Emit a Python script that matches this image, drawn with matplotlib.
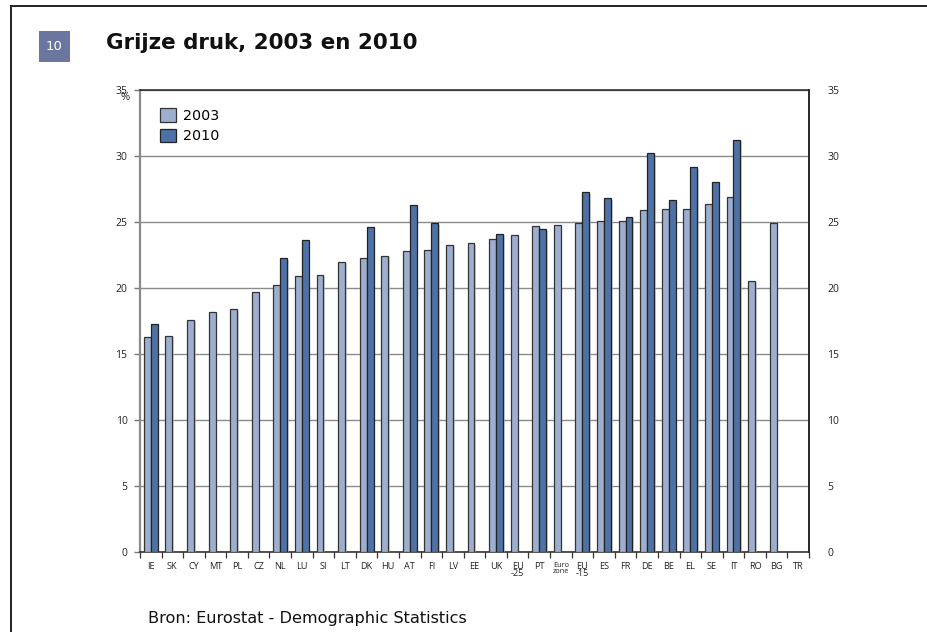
import numpy as np
import matplotlib
matplotlib.use("Agg")
import matplotlib.pyplot as plt
from matplotlib.patches import Rectangle
from matplotlib.lines import Line2D
import matplotlib.patheffects as pe

# Old-age dependency ratio per country, 2003 and 2010 (%)
countries = ["IE", "SK", "CY", "MT", "PL", "CZ", "NL", "LU", "SI", "LT", "DK",
             "HU", "AT", "FI", "LV", "EE", "UK", "EU\n-25", "PT", "Euro\nzone",
             "EU\n-15", "ES", "FR", "DE", "BE", "EL", "SE", "IT", "RO", "BG", "TR"]
values_2003 = [16.3, 16.4, 17.6, 18.2, 18.4, 19.7, 20.2, 20.9, 21.0, 22.0, 22.25,
               22.45, 22.8, 22.9, 23.25, 23.4, 23.7, 24.05, 24.7, 24.8,
               24.95, 25.05, 25.05, 25.9, 25.95, 25.95, 26.4, 26.9, 20.55, 24.9, np.nan]
values_2010 = [17.25, np.nan, np.nan, np.nan, np.nan, np.nan, 22.25, 23.6, np.nan, np.nan, 24.6,
               np.nan, 26.3, 24.9, np.nan, np.nan, 24.1, np.nan, 24.45, np.nan,
               27.25, 26.8, 25.4, 30.2, 26.7, 29.15, 28.05, 31.25, np.nan, np.nan, np.nan]
series_names = ["2003", "2010"]
y_ticks = [0, 5, 10, 15, 20, 25, 30, 35]

W, H = 928, 632
fig = plt.figure(figsize=(W / 100, H / 100), dpi=100)
fig.patch.set_facecolor("white")

def fx(px):
    return px / W

def fy(py):
    return 1 - py / H

# page frame (top and left rules)
fig.add_artist(Line2D([fx(11), fx(11)], [fy(6), 0], transform=fig.transFigure,
                      color="#222222", lw=1.4))
fig.add_artist(Line2D([fx(11), 1], [fy(6), fy(6)], transform=fig.transFigure,
                      color="#222222", lw=1.4))

# figure number badge
fig.add_artist(Rectangle((fx(39), fy(62)), fx(31), 31 / H, transform=fig.transFigure,
                         facecolor="#6a76a0", edgecolor="none"))
fig.text(fx(54.5), fy(47), "10", color="white", fontsize=9.5, ha="center", va="center",
         family="DejaVu Sans")

# title
fig.text(fx(106), fy(43), "Grijze druk, 2003 en 2010", fontsize=15.4, fontweight="bold",
         ha="left", va="center", family="DejaVu Sans", color="#111111")

ax = fig.add_axes([fx(140), fy(552), fx(809) - fx(140), (552 - 90) / H])
x = np.arange(len(countries))
w = 0.32
c2003 = "#9daecf"
c2010 = "#4f72a6"
shadow = [pe.SimplePatchShadow(offset=(1.2, -1.0), shadow_rgbFace="#b8b8b8", alpha=0.6),
          pe.Normal()]

b1 = ax.bar(x - w / 2, values_2003, w, color=c2003, edgecolor="#333333", linewidth=0.9,
            label=series_names[0], zorder=3)
b2 = ax.bar(x + w / 2, values_2010, w, color=c2010, edgecolor="#222222", linewidth=0.9,
            label=series_names[1], zorder=3)
for bars in (b1, b2):
    for p in bars:
        p.set_path_effects(shadow)

ax.set_xlim(-0.5, len(countries) - 0.5)
ax.set_ylim(0, 35)
ax.set_yticks(y_ticks)
ax.set_yticklabels([str(t) for t in y_ticks], fontsize=7.5, family="Open Sans", color="#222222")
ax.grid(axis="y", color="#8a8a8a", linewidth=1.0, zorder=0)
ax.set_axisbelow(True)
ax.tick_params(axis="y", direction="out", length=4, width=1, color="#777777", pad=5)

# category labels centred on each group, tick marks on the boundaries
ax.set_xticks(x)
ax.set_xticklabels([])
ax.set_xticks(np.arange(-0.5, len(countries), 1.0), minor=True)
ax.tick_params(axis="x", which="major", length=0)
ax.tick_params(axis="x", which="minor", direction="out", length=4, width=0.9, color="#333333")
for xi, lab in zip(x, countries):
    if lab == "Euro\nzone":
        ax.text(xi, -0.75, lab, ha="center", va="top", fontsize=5.2, family="Open Sans",
                linespacing=0.9, color="#222222")
    else:
        ax.text(xi, -0.75, lab, ha="center", va="top", fontsize=6.6, family="Open Sans",
                linespacing=0.8, color="#222222")

for side in ("top", "right", "bottom"):
    ax.spines[side].set_color("#222222")
    ax.spines[side].set_linewidth(1.1)
ax.spines["left"].set_color("#8a8a8a")
ax.spines["left"].set_linewidth(1.6)

# matching scale on the right-hand side
ax2 = ax.twinx()
ax2.set_ylim(0, 35)
ax2.set_yticks(y_ticks)
ax2.set_yticklabels([str(t) for t in y_ticks], fontsize=7.5, family="Open Sans", color="#222222")
ax2.tick_params(axis="y", length=0, pad=13)
for side in ("top", "left", "bottom"):
    ax2.spines[side].set_visible(False)
ax2.spines["right"].set_color("#222222")
ax2.spines["right"].set_linewidth(1.1)

fig.text(fx(125), fy(98), "%", fontsize=8, family="Open Sans", ha="center", va="center",
         color="#222222")

ax_w = 809 - 140
ax_h = 552 - 90
leg = ax.legend(loc="upper left",
                bbox_to_anchor=((160 - 140) / ax_w, 1 - (108 - 90) / ax_h),
                frameon=False, handlelength=1.1, handleheight=1.1,
                handletextpad=0.5, labelspacing=0.42, borderaxespad=0.0, borderpad=0.0,
                prop={"family": "DejaVu Sans", "size": 10.3})
for h in leg.legend_handles:
    h.set_path_effects([])

fig.text(fx(148), fy(618), "Bron: Eurostat - Demographic Statistics", fontsize=11.6,
         family="DejaVu Sans", ha="left", va="center", color="#111111")

fig.savefig("out.png", dpi=100, facecolor="white")
